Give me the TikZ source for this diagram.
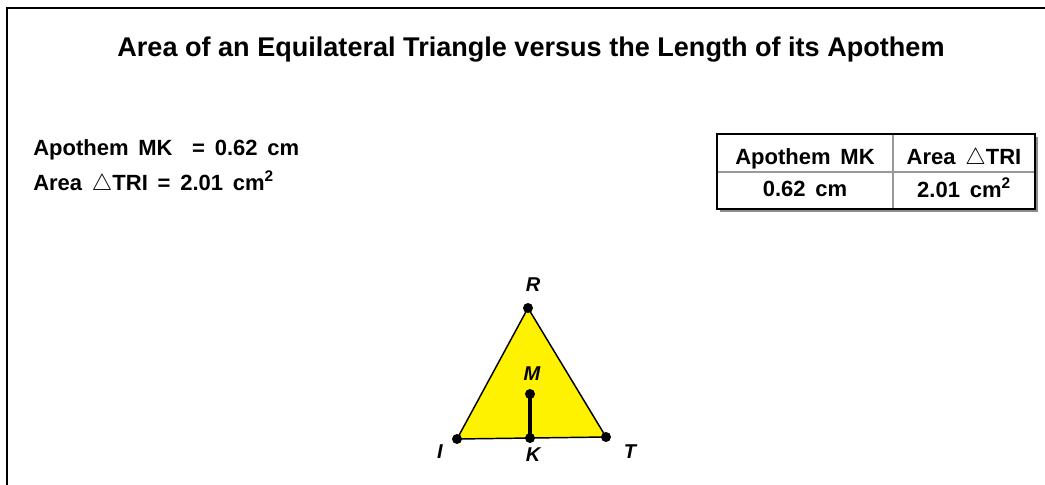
\documentclass[tikz,border=0pt]{standalone}
\usepackage{fontspec}
\setmainfont{Liberation Sans}[WordSpace=1.6]
\newfontfamily\titlefont{Liberation Sans}
\usepackage{tikz}

\tikzset{
  ttl/.style={font=\titlefont\fontsize{20.3}{22}\selectfont\bfseries, inner sep=0pt},
  txt/.style={font=\fontsize{16.5}{18}\selectfont\bfseries, inner sep=0pt},
  lbl/.style={font=\fontsize{15}{16}\selectfont\bfseries\itshape, inner sep=0pt},
  vdot/.style={circle, fill=black, inner sep=0pt, minimum size=7.5pt}
}

\begin{document}
\begin{tikzpicture}[x=0.75pt,y=-0.75pt]
  \useasboundingbox (0,0) rectangle (1045,485);
  % frame
  \draw[line width=1.6pt] (6.7,485) -- (6.7,7.8) -- (1045,7.8);
  \node[ttl,anchor=base] (title) at (531,57)
    {Area of an Equilateral Triangle versus the Length of its Apothem};
  % measurements
  \node[txt,anchor=base west] (mk) at (33,155) {Apothem MK\ \ = 0.62 cm};
  \node[txt,anchor=base west] (area) at (33,190)
    {Area $\triangle$TRI = 2.01 cm\textsuperscript{2}};
  % table
  \fill[black!45] (720,137) rectangle (1038,212);
  \fill[white] (717,134) rectangle (1035,209);
  \draw[black!40,line width=0.9pt] (893,134) -- (893,209);
  \draw[black!40,line width=0.9pt] (717,172) -- (1035,172);
  \draw[line width=1.2pt] (717,134) rectangle (1035,209);
  \node[txt,anchor=base] (h1) at (805,164) {Apothem MK};
  \node[txt,anchor=base] (h2) at (964,164) {Area $\triangle$TRI};
  \node[txt,anchor=base] (v1) at (805,196) {0.62 cm};
  \node[txt,anchor=base] (v2) at (964,197) {2.01 cm\textsuperscript{2}};
  % triangle
  \coordinate (R) at (528,308);
  \coordinate (I) at (457,439);
  \coordinate (T) at (606,437);
  \coordinate (K) at (530,438);
  \coordinate (M) at (530,394);
  \filldraw[fill=yellow,line width=1.1pt,line join=round] (R) -- (I) -- (T) -- cycle;
  \draw[line width=3.2pt] (M) -- (K);
  \node[vdot] (dR) at (R) {};
  \node[vdot] (dI) at (I) {};
  \node[vdot] (dT) at (T) {};
  \node[vdot] (dK) at (K) {};
  \node[vdot] (dM) at (M) {};
  \node[lbl] (lR) at (533,285) {R};
  \node[lbl] (lM) at (532,374) {M};
  \node[lbl] (lI) at (440,452) {I};
  \node[lbl] (lK) at (533,455) {K};
  \node[lbl] (lT) at (630,452) {T};
\end{tikzpicture}
\end{document}
